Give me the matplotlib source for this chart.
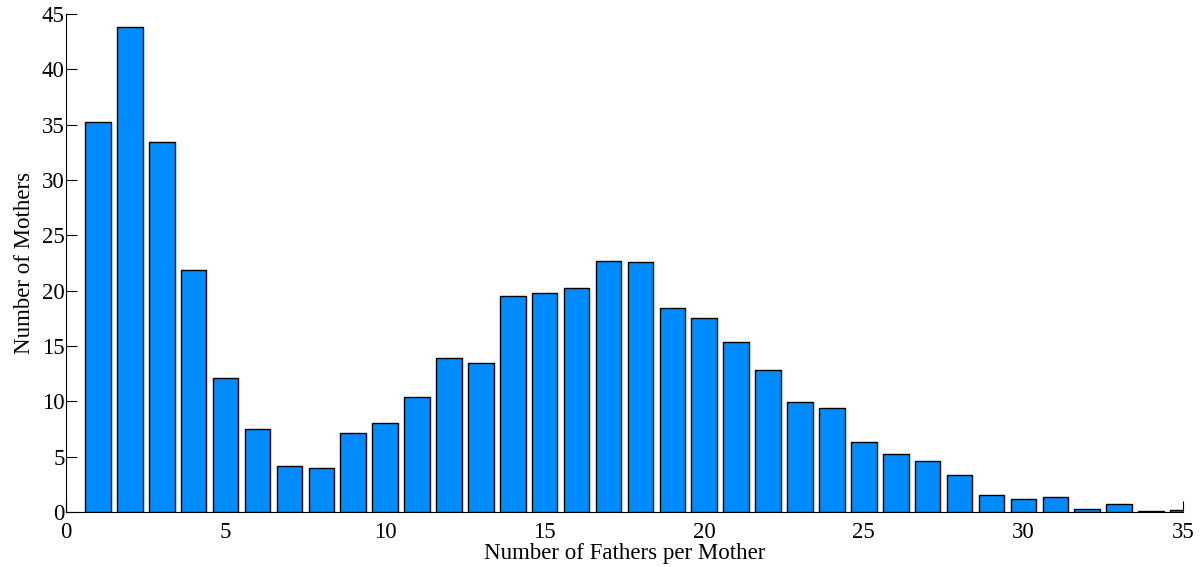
import matplotlib
matplotlib.use("Agg")
import matplotlib.pyplot as plt

# Paternity histogram: number of mothers by count of fathers
fathers = list(range(1, 36))
mothers = [35.2, 43.8, 33.4, 21.9, 12.1, 7.5, 4.2, 4.0, 7.1, 8.0,
           10.4, 13.9, 13.5, 19.5, 19.8, 20.2, 22.7, 22.6, 18.4, 17.5,
           15.4, 12.8, 9.9, 9.4, 6.3, 5.2, 4.6, 3.3, 1.5, 1.2,
           1.4, 0.3, 0.7, 0.1, 0.2]
xticks = [0, 5, 10, 15, 20, 25, 30, 35]
yticks = [0, 5, 10, 15, 20, 25, 30, 35, 40, 45]

plt.rcParams['font.family'] = ['Liberation Serif', 'DejaVu Serif']

fig = plt.figure(figsize=(12, 5.67), dpi=100)
ax = fig.add_axes([0.055, 0.097, 0.9308, 0.8783])

ax.bar(fathers, mothers, width=0.8, color='#008BFF', edgecolor='black',
       linewidth=1.0, zorder=3)

ax.set_xlim(0, 35)
ax.set_ylim(0, 45)
ax.set_xticks(xticks)
ax.set_yticks(yticks)
ax.set_axisbelow(True)

for side in ('top', 'right'):
    ax.spines[side].set_visible(False)
ax.spines['left'].set_linewidth(0.8)
ax.spines['bottom'].set_linewidth(0.8)

ax.tick_params(direction='in', length=8, width=0.8, labelsize=16.5)
ax.tick_params(axis='x', pad=7.5)
ax.tick_params(axis='y', pad=1)

ax.set_xlabel('Number of Fathers per Mother', fontsize=16.5, labelpad=0)
ax.set_ylabel('Number of Mothers', fontsize=16.5, labelpad=5)

fig.savefig('out.png', dpi=100)
